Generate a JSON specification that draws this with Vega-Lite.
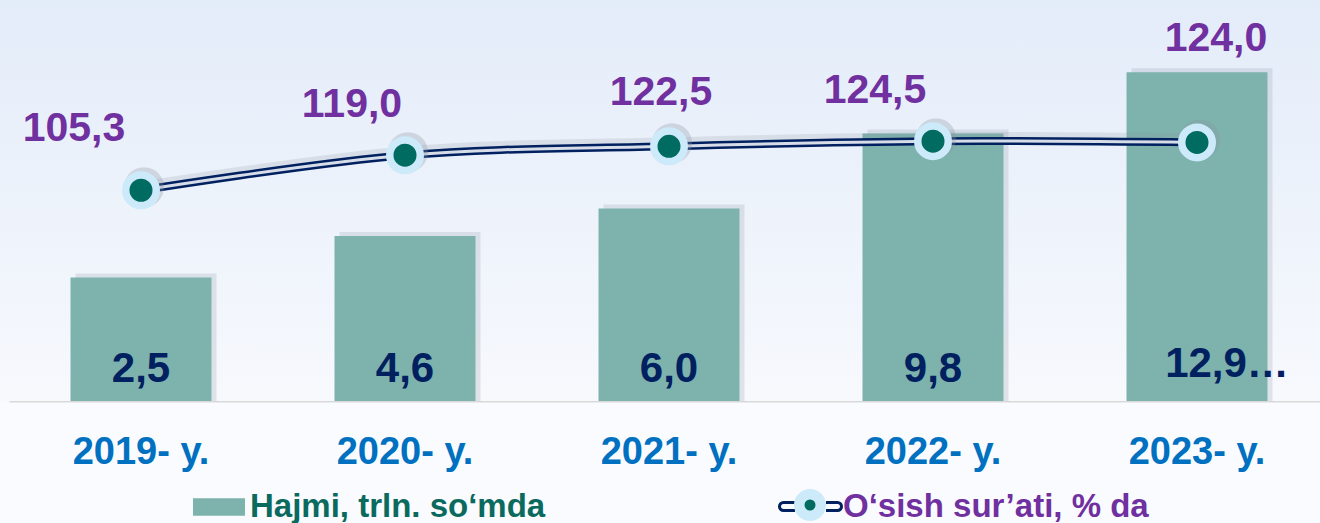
{
  "$schema": "https://vega.github.io/schema/vega-lite/v6.json",
  "width": 1320,
  "height": 401,
  "autosize": {"type": "none"},
  "padding": {"left": 0, "top": 0, "right": 0, "bottom": 122},
  "background": "#f9fbfe",
  "data": {
    "values": [
      {"year": "2019- y.", "hajmi": 2.5, "hajmi_label": "2,5", "osish": 105.3, "osish_label": "105,3"},
      {"year": "2020- y.", "hajmi": 4.6, "hajmi_label": "4,6", "osish": 119.0, "osish_label": "119,0"},
      {"year": "2021- y.", "hajmi": 6.0, "hajmi_label": "6,0", "osish": 122.5, "osish_label": "122,5"},
      {"year": "2022- y.", "hajmi": 9.8, "hajmi_label": "9,8", "osish": 124.5, "osish_label": "124,5"},
      {"year": "2023- y.", "hajmi": 12.9, "hajmi_label": "12,9…", "osish": 124.0, "osish_label": "124,0"}
    ]
  },
  "config": {
    "view": {"stroke": null},
    "font": "Liberation Sans",
    "axisX": {
      "domainColor": "#d9d9d9",
      "domainWidth": 2,
      "ticks": false,
      "tickSize": 0,
      "grid": false,
      "labelFont": "Liberation Sans",
      "labelFontSize": 38,
      "labelFontWeight": "bold",
      "labelColor": "#0070c0",
      "labelBaseline": "alphabetic",
      "labelPadding": 62,
      "labelAngle": 0,
      "labelLimit": 400
    }
  },
  "resolve": {"scale": {"y": "independent"}},
  "layer": [
    {
      "mark": {
        "type": "rect",
        "fill": {
          "gradient": "linear", "x1": 0, "y1": 0, "x2": 0, "y2": 1,
          "stops": [{"offset": 0, "color": "#e3ecf9"}, {"offset": 1, "color": "#f7f9fd"}]
        }
      },
      "encoding": {}
    },
    {
      "mark": {"type": "bar", "fill": "#8a94a2", "opacity": 0.22, "xOffset": 5, "yOffset": -4},
      "encoding": {
        "x": {"field": "year", "type": "nominal", "sort": null, "axis": {"title": null},
              "scale": {"range": [9, 1329], "paddingInner": 0.466}},
        "y": {"field": "hajmi", "type": "quantitative", "axis": null,
              "scale": {"domain": [-3.76, 16.56], "nice": false, "zero": false}},
        "y2": {"datum": -3.76}
      }
    },
    {
      "mark": {"type": "bar"},
      "encoding": {
        "x": {"field": "year", "type": "nominal", "sort": null, "axis": {"title": null}},
        "y": {"field": "hajmi", "type": "quantitative", "axis": null,
              "scale": {"domain": [-3.76, 16.56], "nice": false, "zero": false}},
        "y2": {"datum": -3.76},
        "fill": {
          "datum": "Hajmi, trln. so‘mda",
          "scale": {"range": ["#7db2ad"]},
          "legend": {
            "orient": "none", "legendX": 193, "legendY": 481, "title": null, "padding": 0,
            "symbolType": "M-1,-0.34H1V0.34H-1Z", "symbolSize": 2704, "symbolStrokeWidth": 0,
            "symbolOpacity": 1,
            "labelFont": "Liberation Sans", "labelFontSize": 33, "labelFontWeight": "bold",
            "labelColor": "#0b6a5e", "labelOffset": 5, "labelLimit": 500
          }
        }
      }
    },
    {
      "transform": [{"filter": "datum.year !== '2023- y.'"}],
      "mark": {"type": "text", "font": "Liberation Sans", "fontSize": 42, "fontWeight": "bold",
               "color": "#002060", "align": "center", "baseline": "alphabetic", "dy": -19},
      "encoding": {
        "x": {"field": "year", "type": "nominal", "sort": null, "axis": {"title": null}},
        "y": {"datum": -3.76, "type": "quantitative", "axis": null,
              "scale": {"domain": [-3.76, 16.56], "nice": false, "zero": false}},
        "text": {"field": "hajmi_label"}
      }
    },
    {
      "transform": [{"filter": "datum.year === '2023- y.'"}],
      "mark": {"type": "text", "font": "Liberation Sans", "fontSize": 42, "fontWeight": "bold",
               "color": "#002060", "align": "center", "baseline": "alphabetic", "dy": -24, "dx": 30},
      "encoding": {
        "x": {"field": "year", "type": "nominal", "sort": null, "axis": {"title": null}},
        "y": {"datum": -3.76, "type": "quantitative", "axis": null,
              "scale": {"domain": [-3.76, 16.56], "nice": false, "zero": false}},
        "text": {"field": "hajmi_label"}
      }
    },
    {
      "mark": {"type": "line", "interpolate": "catmull-rom", "stroke": "#8a94a2", "strokeWidth": 10,
               "opacity": 0.2, "xOffset": 2, "yOffset": -4},
      "encoding": {
        "x": {"field": "year", "type": "nominal", "sort": null, "axis": {"title": null}},
        "y": {"field": "osish", "type": "quantitative", "axis": null,
              "scale": {"domain": [22.88, 179.7], "nice": false, "zero": false}}
      }
    },
    {
      "mark": {"type": "line", "interpolate": "catmull-rom", "strokeWidth": 8},
      "encoding": {
        "x": {"field": "year", "type": "nominal", "sort": null, "axis": {"title": null}},
        "y": {"field": "osish", "type": "quantitative", "axis": null,
              "scale": {"domain": [22.88, 179.7], "nice": false, "zero": false}},
        "stroke": {
          "datum": "O‘sish sur’ati, % da",
          "scale": {"range": ["#002060"]},
          "legend": {
            "orient": "none", "legendX": 778, "legendY": 474, "title": null, "padding": 0,
            "symbolType": "M-0.5,-0.13H-0.87A0.13,0.13,0,0,0,-0.87,0.13H-0.5M0.5,-0.13H0.87A0.13,0.13,0,0,1,0.87,0.13H0.5",
            "symbolSize": 3844, "symbolStrokeWidth": 3, "symbolFillColor": "transparent",
            "symbolStrokeColor": "#002060",
            "labelFont": "Liberation Sans", "labelFontSize": 33, "labelFontWeight": "bold",
            "labelColor": "#7030a0", "labelOffset": 0, "labelLimit": 500
          }
        }
      }
    },
    {
      "mark": {"type": "line", "interpolate": "catmull-rom", "stroke": "#d6dde8", "strokeWidth": 3},
      "encoding": {
        "x": {"field": "year", "type": "nominal", "sort": null, "axis": {"title": null}},
        "y": {"field": "osish", "type": "quantitative", "axis": null,
              "scale": {"domain": [22.88, 179.7], "nice": false, "zero": false}}
      }
    },
    {
      "mark": {"type": "point", "filled": true, "shape": "circle", "size": 1600, "fill": "#8a94a2",
               "opacity": 0.3, "strokeWidth": 0, "xOffset": 3, "yOffset": -3},
      "encoding": {
        "x": {"field": "year", "type": "nominal", "sort": null, "axis": {"title": null}},
        "y": {"field": "osish", "type": "quantitative", "axis": null,
              "scale": {"domain": [22.88, 179.7], "nice": false, "zero": false}}
      }
    },
    {
      "mark": {"type": "point", "filled": true, "fill": "#cdeafa", "strokeWidth": 0, "size": 100},
      "encoding": {
        "x": {"field": "year", "type": "nominal", "sort": null, "axis": {"title": null}},
        "y": {"field": "osish", "type": "quantitative", "axis": null,
              "scale": {"domain": [22.88, 179.7], "nice": false, "zero": false}},
        "opacity": {
          "datum": "ring",
          "scale": {"range": [1]},
          "legend": {
            "orient": "none", "legendX": 794, "legendY": 489, "title": null, "padding": 0,
            "symbolType": "M1,0A1,1,0,1,1,-1,0A1,1,0,1,1,1,0ZM0.3,0A0.3,0.3,0,1,0,-0.3,0A0.3,0.3,0,1,0,0.3,0Z",
            "symbolSize": 1024, "symbolStrokeWidth": 0, "symbolFillColor": "#cdeafa",
            "labelExpr": "''", "labelFontSize": 1, "labelOffset": 0
          }
        }
      }
    },
    {
      "mark": {"type": "point", "filled": true, "fill": "#006b60", "strokeWidth": 0, "size": 100, "opacity": 1},
      "encoding": {
        "x": {"field": "year", "type": "nominal", "sort": null, "axis": {"title": null}},
        "y": {"field": "osish", "type": "quantitative", "axis": null,
              "scale": {"domain": [22.88, 179.7], "nice": false, "zero": false}},
        "shape": {
          "datum": "dot",
          "scale": {"range": ["circle"]},
          "legend": {
            "orient": "none", "legendX": 804.5, "legendY": 499.5, "title": null, "padding": 0,
            "symbolSize": 121, "symbolStrokeWidth": 0, "symbolFillColor": "#006b60",
            "symbolOpacity": 1,
            "labelExpr": "''", "labelFontSize": 1, "labelOffset": 0
          }
        }
      }
    },
    {
      "mark": {"type": "point", "filled": true, "size": 930, "fill": "#006b60", "stroke": "#cdeafa",
               "strokeWidth": 7.5, "opacity": 1},
      "encoding": {
        "x": {"field": "year", "type": "nominal", "sort": null, "axis": {"title": null}},
        "y": {"field": "osish", "type": "quantitative", "axis": null,
              "scale": {"domain": [22.88, 179.7], "nice": false, "zero": false}}
      }
    },
    {
      "transform": [{"filter": "datum.year === '2019- y.'"}],
      "mark": {"type": "text", "font": "Liberation Sans", "fontSize": 41, "fontWeight": "bold",
               "color": "#7030a0", "align": "center", "baseline": "alphabetic", "dx": -67, "dy": -49},
      "encoding": {
        "x": {"field": "year", "type": "nominal", "sort": null, "axis": {"title": null}},
        "y": {"field": "osish", "type": "quantitative", "axis": null,
              "scale": {"domain": [22.88, 179.7], "nice": false, "zero": false}},
        "text": {"field": "osish_label"}
      }
    },
    {
      "transform": [{"filter": "datum.year === '2020- y.'"}],
      "mark": {"type": "text", "font": "Liberation Sans", "fontSize": 41, "fontWeight": "bold",
               "color": "#7030a0", "align": "center", "baseline": "alphabetic", "dx": -53, "dy": -38},
      "encoding": {
        "x": {"field": "year", "type": "nominal", "sort": null, "axis": {"title": null}},
        "y": {"field": "osish", "type": "quantitative", "axis": null,
              "scale": {"domain": [22.88, 179.7], "nice": false, "zero": false}},
        "text": {"field": "osish_label"}
      }
    },
    {
      "transform": [{"filter": "datum.year === '2021- y.'"}],
      "mark": {"type": "text", "font": "Liberation Sans", "fontSize": 41, "fontWeight": "bold",
               "color": "#7030a0", "align": "center", "baseline": "alphabetic", "dx": -8, "dy": -41},
      "encoding": {
        "x": {"field": "year", "type": "nominal", "sort": null, "axis": {"title": null}},
        "y": {"field": "osish", "type": "quantitative", "axis": null,
              "scale": {"domain": [22.88, 179.7], "nice": false, "zero": false}},
        "text": {"field": "osish_label"}
      }
    },
    {
      "transform": [{"filter": "datum.year === '2022- y.'"}],
      "mark": {"type": "text", "font": "Liberation Sans", "fontSize": 41, "fontWeight": "bold",
               "color": "#7030a0", "align": "center", "baseline": "alphabetic", "dx": -58, "dy": -38},
      "encoding": {
        "x": {"field": "year", "type": "nominal", "sort": null, "axis": {"title": null}},
        "y": {"field": "osish", "type": "quantitative", "axis": null,
              "scale": {"domain": [22.88, 179.7], "nice": false, "zero": false}},
        "text": {"field": "osish_label"}
      }
    },
    {
      "transform": [{"filter": "datum.year === '2023- y.'"}],
      "mark": {"type": "text", "font": "Liberation Sans", "fontSize": 41, "fontWeight": "bold",
               "color": "#7030a0", "align": "center", "baseline": "alphabetic", "dx": 19, "dy": -91},
      "encoding": {
        "x": {"field": "year", "type": "nominal", "sort": null, "axis": {"title": null}},
        "y": {"field": "osish", "type": "quantitative", "axis": null,
              "scale": {"domain": [22.88, 179.7], "nice": false, "zero": false}},
        "text": {"field": "osish_label"}
      }
    }
  ]
}
